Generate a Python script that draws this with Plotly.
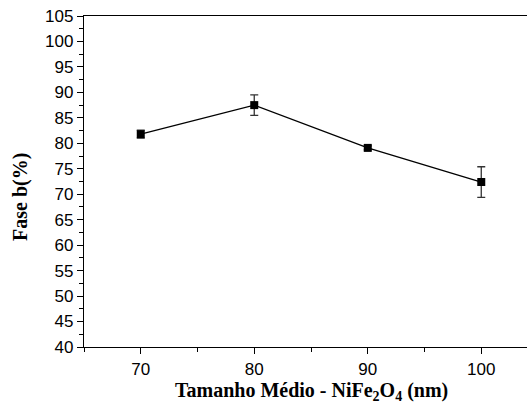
import plotly.graph_objects as go

sizes = [70, 80, 90, 100]
fase_b = [81.8, 87.5, 79.1, 72.4]
erro = [0.8, 2.0, 0.4, 3.0]

x_ticks = [70, 80, 90, 100]
y_ticks = list(range(40, 106, 5))

fig = go.Figure()
fig.add_trace(go.Scatter(
    x=sizes, y=fase_b, mode="lines+markers",
    line=dict(color="black", width=1.3),
    marker=dict(symbol="square", size=8, color="black"),
    error_y=dict(type="data", array=erro, visible=True, color="#333333", thickness=1.3, width=4),
    showlegend=False,
))

tickfont = dict(family="Liberation Sans, Arial", size=17, color="black")
fig.update_layout(
    width=527, height=403,
    margin=dict(l=84, r=0, t=16, b=56),
    paper_bgcolor="white", plot_bgcolor="white",
    xaxis=dict(
        range=[65, 104.03], tickvals=x_ticks, ticktext=[str(v) for v in x_ticks],
        ticks="outside", ticklen=6, tickwidth=1, tickcolor="black",
        minor=dict(dtick=5, tick0=65, ticks="outside", ticklen=4, tickcolor="black"),
        showline=True, linecolor="black", linewidth=1.3, mirror=True,
        showgrid=False, zeroline=False, tickfont=tickfont,
    ),
    yaxis=dict(
        range=[40, 105], tickvals=y_ticks, ticktext=[str(v) for v in y_ticks],
        ticks="outside", ticklen=6, tickwidth=1, tickcolor="black",
        minor=dict(dtick=2.5, tick0=40, ticks="outside", ticklen=4, tickcolor="black"),
        showline=True, linecolor="black", linewidth=1.3, mirror=False,
        showgrid=False, zeroline=False, tickfont=tickfont,
    ),
    annotations=[
        dict(text="<b>Tamanho Médio - NiFe<sub>2</sub>O<sub>4</sub> (nm)</b>",
             xref="paper", yref="paper", x=(311 - 84) / 443, y=(347 - 391) / 331,
             xanchor="center", yanchor="middle", showarrow=False,
             font=dict(family="Liberation Serif, Times New Roman", size=20, color="black")),
        dict(text="<b>Fase b(%)</b>", textangle=-90,
             xref="paper", yref="paper", x=(20 - 84) / 443, y=(347 - 197) / 331,
             xanchor="center", yanchor="middle", showarrow=False,
             font=dict(family="Liberation Serif, Times New Roman", size=20, color="black")),
    ],
)

fig.write_html("out.html", config={"displayModeBar": False},
               post_script="document.body.style.margin='0';")
